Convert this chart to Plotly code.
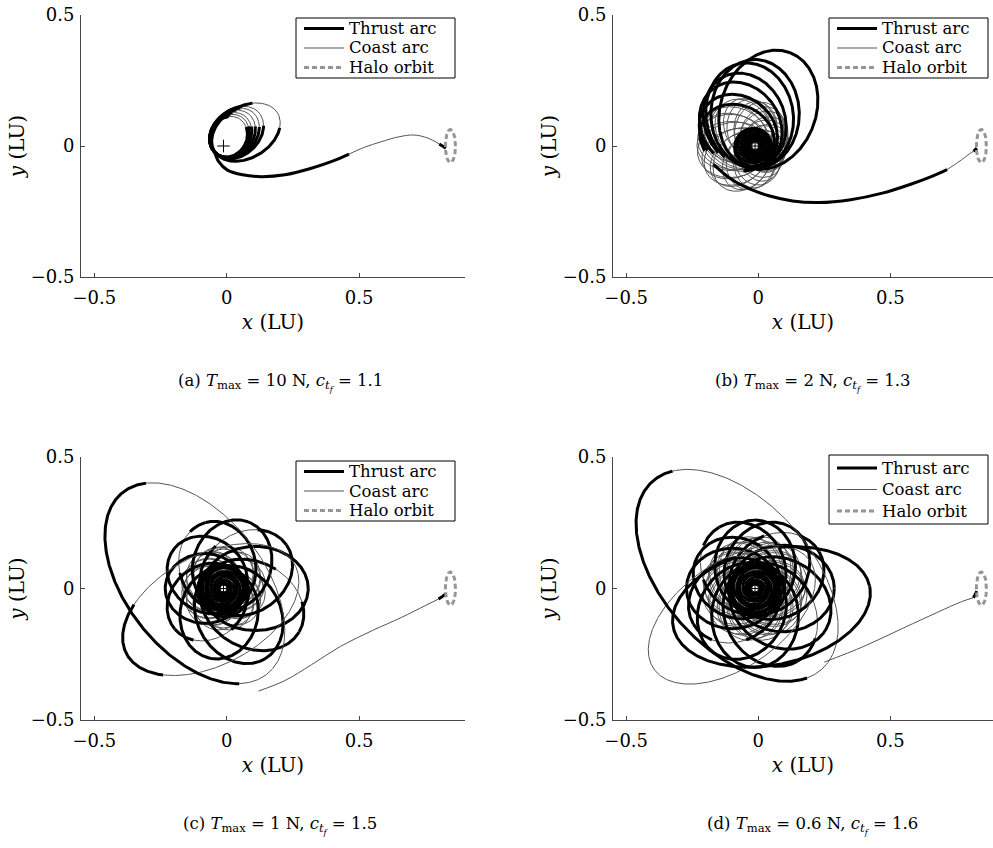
import numpy as np
import plotly.graph_objects as go

# ------------------------------------------------------------------ data
EARTH_XY = (-0.012, 0.0)
HALO = (0.845, 0.0, 0.019, 0.063)          # centre x, centre y, semi-x, semi-y
TICKS = [-0.5, 0, 0.5]
TICK_TEXT = ["\u22120.5", "0", "0.5"]

# loops around Earth: (periapsis r, apoapsis r, apoapsis direction deg,
#                      coast from deg, coast to deg)  -- directions seen from Earth
A_LOOPS = [(0.040, 0.120, 62, 40, 80), (0.040, 0.130, 60, 38, 78),
           (0.040, 0.140, 57, 35, 75), (0.040, 0.155, 53, 32, 70),
           (0.040, 0.170, 49, 28, 66), (0.040, 0.185, 45, 27, 65),
           (0.040, 0.240, 32, 18, 56)]
A_ESC = [("T", [-0.046, -0.03, 0.003, 0.06, 0.13, 0.22, 0.32, 0.40, 0.462],
               [-0.021, -0.06, -0.092, -0.11, -0.117, -0.11, -0.085, -0.058, -0.031]),
         ("C", [0.462, 0.52, 0.583, 0.65, 0.708, 0.76, 0.803],
               [-0.031, -0.005, 0.016, 0.035, 0.042, 0.03, 0.008]),
         ("T", [0.803, 0.815, 0.828], [0.008, 0.0, -0.008])]

B_RING = [(0.05, 0.12, 0, 0, 360), (0.04, 0.13, 12, 0, 360), (0.05, 0.13, 25, 0, 360),
          (0.04, 0.14, 38, 0, 360), (0.05, 0.15, 50, 0, 360), (0.04, 0.16, 62, 0, 360),
          (0.05, 0.17, 75, 0, 360), (0.04, 0.17, 88, 0, 360), (0.05, 0.18, 100, 0, 360),
          (0.04, 0.19, 112, 0, 360), (0.05, 0.20, 125, 0, 360), (0.04, 0.20, 138, 0, 360),
          (0.05, 0.21, 150, 0, 360), (0.04, 0.21, 160, 0, 360), (0.05, 0.22, 170, 0, 360),
          (0.04, 0.22, 180, 0, 360), (0.05, 0.22, 190, 0, 360), (0.04, 0.21, 200, 0, 360),
          (0.05, 0.21, 210, 0, 360), (0.04, 0.20, 220, 0, 360), (0.05, 0.20, 230, 0, 360),
          (0.04, 0.18, 242, 0, 360), (0.05, 0.17, 255, 0, 360), (0.04, 0.16, 268, 0, 360),
          (0.05, 0.15, 280, 0, 360), (0.04, 0.14, 292, 0, 360), (0.05, 0.13, 305, 0, 360),
          (0.04, 0.12, 318, 0, 360), (0.05, 0.12, 330, 0, 360), (0.04, 0.12, 345, 0, 360)]
B_CORE = [(0.010, 0.014, 30, 0, 0), (0.014, 0.020, 80, 0, 0), (0.019, 0.026, 130, 0, 0),
          (0.024, 0.032, 180, 0, 0), (0.029, 0.038, 230, 0, 0), (0.034, 0.044, 280, 0, 0),
          (0.039, 0.050, 330, 0, 0), (0.044, 0.056, 20, 0, 0), (0.049, 0.062, 70, 0, 0),
          (0.054, 0.068, 120, 0, 0), (0.058, 0.074, 170, 0, 0), (0.062, 0.080, 220, 0, 0)]
B_FAN = [(0.070, 0.22, 155, 185, 245), (0.075, 0.24, 140, 185, 245),
         (0.080, 0.27, 125, 190, 250), (0.080, 0.29, 112, 190, 250),
         (0.085, 0.32, 100, 200, 250), (0.085, 0.33, 90, 0, 0), (0.086, 0.38, 70, 0, 0)]
B_ESC = [("T", [-0.17, -0.1, -0.03, 0.04, 0.13, 0.23, 0.35, 0.47, 0.58, 0.66, 0.715],
               [-0.07, -0.128, -0.165, -0.19, -0.21, -0.216, -0.205, -0.18, -0.145, -0.115, -0.09]),
         ("C", [0.715, 0.76, 0.80, 0.815], [-0.09, -0.06, -0.03, -0.02]),
         ("T", [0.815, 0.822, 0.828], [-0.02, -0.014, -0.008])]

C_RING = [(0.05, 0.15, 0, 0, 360), (0.06, 0.16, 15, 0, 360), (0.05, 0.15, 30, 0, 360),
          (0.06, 0.16, 45, 0, 360), (0.05, 0.15, 60, 0, 360), (0.06, 0.16, 75, 0, 360),
          (0.05, 0.15, 90, 0, 360), (0.06, 0.16, 105, 0, 360), (0.05, 0.15, 120, 0, 360),
          (0.06, 0.16, 135, 0, 360), (0.05, 0.15, 150, 0, 360), (0.06, 0.16, 165, 0, 360),
          (0.05, 0.15, 180, 0, 360), (0.06, 0.16, 195, 0, 360), (0.05, 0.15, 210, 0, 360),
          (0.06, 0.16, 225, 0, 360), (0.05, 0.15, 240, 0, 360), (0.06, 0.16, 255, 0, 360),
          (0.05, 0.15, 270, 0, 360), (0.06, 0.16, 285, 0, 360), (0.05, 0.15, 300, 0, 360),
          (0.06, 0.16, 315, 0, 360), (0.05, 0.15, 330, 0, 360), (0.06, 0.16, 345, 0, 360)]
C_CORE = [(0.008, 0.012, 0, 0, 0), (0.012, 0.018, 60, 0, 0), (0.017, 0.024, 120, 0, 0),
          (0.022, 0.030, 180, 0, 0), (0.027, 0.036, 240, 0, 0), (0.032, 0.042, 300, 0, 0),
          (0.037, 0.048, 20, 0, 0), (0.042, 0.054, 80, 0, 0), (0.047, 0.060, 140, 0, 0),
          (0.052, 0.066, 200, 0, 0), (0.057, 0.072, 260, 0, 0), (0.062, 0.078, 320, 0, 0),
          (0.066, 0.084, 40, 0, 0), (0.070, 0.090, 100, 0, 0), (0.074, 0.096, 160, 0, 0),
          (0.078, 0.102, 220, 0, 0), (0.082, 0.108, 280, 0, 0)]
C_ROSE = [(0.08, 0.32, 0, 0, 0), (0.08, 0.29, 35, 60, 100), (0.08, 0.27, 70, 0, 0),
          (0.08, 0.26, 105, 120, 160), (0.08, 0.24, 140, 0, 0), (0.08, 0.22, 180, 0, 0),
          (0.08, 0.24, 220, 240, 280), (0.08, 0.27, 260, 0, 0), (0.08, 0.31, 300, 0, 0),
          (0.08, 0.33, 330, 350, 20)]
# large ellipses: (centre x, centre y, semi-major, semi-minor, tilt deg, coast from, coast to)
C_BIG = [(-0.12, 0.02, 0.44, 0.26, -52, 279, 126),
         (-0.06, -0.08, 0.36, 0.21, 28, 235, 190)]
C_ESC = [("C", [0.12, 0.22, 0.32, 0.43, 0.55, 0.66, 0.75, 0.80],
               [-0.39, -0.35, -0.29, -0.22, -0.16, -0.11, -0.065, -0.04]),
         ("T", [0.80, 0.815, 0.828], [-0.04, -0.03, -0.02])]

D_RING = [(0.06, 0.19, 0, 0, 360), (0.07, 0.20, 15, 0, 360), (0.06, 0.19, 30, 0, 360),
          (0.07, 0.20, 45, 0, 360), (0.06, 0.19, 60, 0, 360), (0.07, 0.20, 75, 0, 360),
          (0.06, 0.19, 90, 0, 360), (0.07, 0.20, 105, 0, 360), (0.06, 0.19, 120, 0, 360),
          (0.07, 0.20, 135, 0, 360), (0.06, 0.19, 150, 0, 360), (0.07, 0.20, 165, 0, 360),
          (0.06, 0.19, 180, 0, 360), (0.07, 0.20, 195, 0, 360), (0.06, 0.19, 210, 0, 360),
          (0.07, 0.20, 225, 0, 360), (0.06, 0.19, 240, 0, 360), (0.07, 0.20, 255, 0, 360),
          (0.06, 0.19, 270, 0, 360), (0.07, 0.20, 285, 0, 360), (0.06, 0.19, 300, 0, 360),
          (0.07, 0.20, 315, 0, 360), (0.06, 0.19, 330, 0, 360), (0.07, 0.20, 345, 0, 360)]
D_CORE = [(0.008, 0.012, 0, 0, 0), (0.012, 0.018, 60, 0, 0), (0.017, 0.024, 120, 0, 0),
          (0.022, 0.030, 180, 0, 0), (0.027, 0.036, 240, 0, 0), (0.032, 0.042, 300, 0, 0),
          (0.037, 0.048, 20, 0, 0), (0.042, 0.054, 80, 0, 0), (0.047, 0.060, 140, 0, 0),
          (0.052, 0.066, 200, 0, 0), (0.057, 0.072, 260, 0, 0), (0.062, 0.078, 320, 0, 0),
          (0.066, 0.084, 40, 0, 0), (0.070, 0.090, 100, 0, 0), (0.074, 0.096, 160, 0, 0),
          (0.078, 0.102, 220, 0, 0), (0.082, 0.108, 280, 0, 0), (0.086, 0.114, 340, 0, 0)]
D_ROSE = [(0.09, 0.30, 0, 0, 0), (0.09, 0.28, 30, 50, 80), (0.09, 0.27, 60, 0, 0),
          (0.09, 0.26, 90, 0, 0), (0.09, 0.27, 120, 140, 170), (0.09, 0.25, 150, 0, 0),
          (0.09, 0.26, 180, 0, 0), (0.09, 0.27, 210, 230, 260), (0.09, 0.29, 240, 0, 0),
          (0.09, 0.30, 270, 0, 0), (0.09, 0.32, 300, 320, 350), (0.09, 0.31, 330, 0, 0)]
D_BIG = [(-0.08, 0.05, 0.48, 0.28, -48, 300, 125),
         (0.05, -0.07, 0.38, 0.22, 12, 60, 120),
         (-0.10, -0.10, 0.36, 0.20, 35, 0, 360)]
D_ESC = [("C", [0.25, 0.40, 0.55, 0.68, 0.77, 0.815],
               [-0.28, -0.22, -0.15, -0.09, -0.05, -0.035]),
         ("T", [0.815, 0.822, 0.828], [-0.035, -0.022, -0.01])]

CAPTIONS = ["(a) <i>T</i><sub>max</sub> = 10 N, <i>c</i><sub><i>t<sub>f</sub></i></sub> = 1.1",
            "(b) <i>T</i><sub>max</sub> = 2 N, <i>c</i><sub><i>t<sub>f</sub></i></sub> = 1.3",
            "(c) <i>T</i><sub>max</sub> = 1 N, <i>c</i><sub><i>t<sub>f</sub></i></sub> = 1.5",
            "(d) <i>T</i><sub>max</sub> = 0.6 N, <i>c</i><sub><i>t<sub>f</sub></i></sub> = 1.6"]
LEGEND_NAMES = ["Thrust arc", "Coast arc", "Halo orbit"]

# ------------------------------------------------------------------ styles
FONT = "DejaVu Serif"
THRUST_LINE = dict(color="black", width=3)
COAST_LINE = dict(color="rgb(85,85,85)", width=1)
HALO_LINE = dict(color="rgb(150,150,150)", width=3, dash="5px,3px")
AX_COLOR = "rgb(70,70,70)"
W, H = 993, 848

# ------------------------------------------------------------------ helpers
def ellipse(cx, cy, a, b, tilt, n=540):
    t = np.linspace(0, 2 * np.pi, n + 1)
    th = np.radians(tilt)
    x = cx + a * np.cos(t) * np.cos(th) - b * np.sin(t) * np.sin(th)
    y = cy + a * np.cos(t) * np.sin(th) + b * np.sin(t) * np.cos(th)
    return x, y


def focal_to_centre(rp, ra, w):
    a = (rp + ra) / 2
    c = (ra - rp) / 2
    b = np.sqrt(rp * ra)
    th = np.radians(w)
    return EARTH_XY[0] + c * np.cos(th), EARTH_XY[1] + c * np.sin(th), a, b, w


def coast_mask(x, y, f, t):
    if f == t:
        return np.zeros(len(x), bool)
    if t - f >= 360:
        return np.ones(len(x), bool)
    ang = np.degrees(np.arctan2(y - EARTH_XY[1], x - EARTH_XY[0])) % 360
    f %= 360
    t %= 360
    if f < t:
        return (ang >= f) & (ang <= t)
    return (ang >= f) | (ang <= t)


def add_runs(x, y, mask, thr, cst):
    n = len(x)
    s = 0
    for i in range(1, n + 1):
        if i == n or mask[i] != mask[s]:
            e = min(i + 1, n)
            tgt = cst if mask[s] else thr
            tgt[0].extend(list(x[s:e]) + [None])
            tgt[1].extend(list(y[s:e]) + [None])
            s = i


def group_xy(loops, focal=True):
    thr, cst = ([], []), ([], [])
    for row in loops:
        if focal:
            rp, ra, w, f, t = row
            cx, cy, a, b, tilt = focal_to_centre(rp, ra, w)
        else:
            cx, cy, a, b, tilt, f, t = row
        x, y = ellipse(cx, cy, a, b, tilt)
        add_runs(x, y, coast_mask(x, y, f, t), thr, cst)
    return thr, cst


# ------------------------------------------------------------------ figure
fig = go.Figure()
panels = [
    dict(groups=[(A_LOOPS, True)], esc=A_ESC, ax=("x", "y"), dark=False),
    dict(groups=[(B_RING, True), (B_CORE, True), (B_FAN, True)], esc=B_ESC,
         ax=("x2", "y2"), dark=True),
    dict(groups=[(C_RING, True), (C_CORE, True), (C_ROSE, True), (C_BIG, False)], esc=C_ESC,
         ax=("x3", "y3"), dark=True),
    dict(groups=[(D_RING, True), (D_CORE, True), (D_ROSE, True), (D_BIG, False)], esc=D_ESC,
         ax=("x4", "y4"), dark=True),
]

for p in panels:
    xa, ya = p["ax"]
    for loops, focal in p["groups"]:
        thr, cst = group_xy(loops, focal)
        for kind, (xs, ys) in (("C", cst), ("T", thr)):
            if not xs:
                continue
            fig.add_trace(go.Scatter(
                x=xs, y=ys, mode="lines", xaxis=xa, yaxis=ya,
                line=THRUST_LINE if kind == "T" else COAST_LINE,
                name=LEGEND_NAMES[0] if kind == "T" else LEGEND_NAMES[1],
                showlegend=False, hoverinfo="skip"))
    for kind, xs, ys in p["esc"]:
        fig.add_trace(go.Scatter(
            x=xs, y=ys, mode="lines", xaxis=xa, yaxis=ya, line_shape="spline",
            line=THRUST_LINE if kind == "T" else COAST_LINE,
            name=LEGEND_NAMES[0] if kind == "T" else LEGEND_NAMES[1],
            showlegend=False, hoverinfo="skip"))
    hx, hy = ellipse(HALO[0], HALO[1], HALO[2], HALO[3], 0, n=120)
    fig.add_trace(go.Scatter(x=hx, y=hy, mode="lines", xaxis=xa, yaxis=ya,
                             line=HALO_LINE, name=LEGEND_NAMES[2], showlegend=False,
                             hoverinfo="skip"))
    if p["dark"]:
        mk = dict(symbol="circle-cross", size=7, color="white",
                  line=dict(color="black", width=1))
    else:
        mk = dict(symbol="cross-thin", size=9, line=dict(color="black", width=1))
    fig.add_trace(go.Scatter(x=[EARTH_XY[0]], y=[EARTH_XY[1]], mode="markers",
                             xaxis=xa, yaxis=ya, marker=mk, showlegend=False,
                             hoverinfo="skip"))

XL = [81 / W, 465 / W]
XR = [613 / W, 1.0]
YT = [1 - 277 / H, 1 - 15 / H]
YB = [1 - 720 / H, 1 - 457 / H]

axis_common = dict(showgrid=False, zeroline=False, showline=True, linecolor=AX_COLOR,
                   linewidth=1, ticks="inside", ticklen=4, tickcolor=AX_COLOR,
                   tickmode="array", tickvals=TICKS, ticktext=TICK_TEXT,
                   tickfont=dict(family=FONT, size=18, color="black"),
                   mirror=False, automargin=True)
layout = dict(width=W, height=H, margin=dict(l=0, r=0, t=0, b=0, autoexpand=False),
              paper_bgcolor="white", plot_bgcolor="white", showlegend=False,
              font=dict(family=FONT, size=18, color="black"))
specs = [("", XL, YT, 0.9), ("2", XR, YT, 0.889), ("3", XL, YB, 0.9), ("4", XR, YB, 0.889)]
for suf, xd, yd, xmax in specs:
    layout["xaxis" + suf] = dict(axis_common, domain=xd, range=[-0.55, xmax],
                                 anchor="y" + suf, ticklabelstandoff=4,
                                 title=dict(text="<i>x</i> (LU)", standoff=8,
                                            font=dict(family=FONT, size=20)))
    layout["yaxis" + suf] = dict(axis_common, domain=yd, range=[-0.5, 0.5],
                                 anchor="x" + suf, ticklabelstandoff=2,
                                 title=dict(text="<i>y</i> (LU)", standoff=0,
                                            font=dict(family=FONT, size=20)))

# legend boxes drawn per panel: (left px, top px, bottom px, row centres px)
LEGEND_BOXES = [(296, 18, 78, (28.5, 48, 67.5)), (829, 18, 78, (28.5, 48, 67.5)),
                (296, 461, 521, (471.5, 491, 510.5)), (829, 455, 524, (468, 489.5, 511))]
shapes, annotations = [], []
for left, top, bottom, rows in LEGEND_BOXES:
    shapes.append(dict(type="rect", xref="paper", yref="paper", x0=left / W,
                       x1=(left + 159) / W, y0=1 - bottom / H, y1=1 - top / H,
                       line=dict(color="black", width=1), fillcolor="white", layer="above"))
    for name, ry, st in zip(LEGEND_NAMES, rows, (THRUST_LINE, COAST_LINE, HALO_LINE)):
        shapes.append(dict(type="line", xref="paper", yref="paper", x0=(left + 8) / W,
                           x1=(left + 48) / W, y0=1 - ry / H, y1=1 - ry / H,
                           line=st, layer="above"))
        annotations.append(dict(text=name, x=(left + 52) / W, y=1 - ry / H,
                                xref="paper", yref="paper", showarrow=False,
                                xanchor="left", yanchor="middle", borderpad=0,
                                font=dict(family=FONT, size=16.5, color="black")))

cap_pos = [(280, 383), (812, 383), (280, 825), (812, 825)]
for c, (px, py) in zip(CAPTIONS, cap_pos):
    annotations.append(dict(text=c, x=px / W, y=1 - py / H, xref="paper", yref="paper",
                            showarrow=False, xanchor="center", yanchor="middle",
                            font=dict(family=FONT, size=16.5, color="black")))
layout["shapes"] = shapes
layout["annotations"] = annotations

fig.update_layout(**layout)
fig.write_html("out.html", config={"displayModeBar": False},
               post_script="document.body.style.margin='0px';")
